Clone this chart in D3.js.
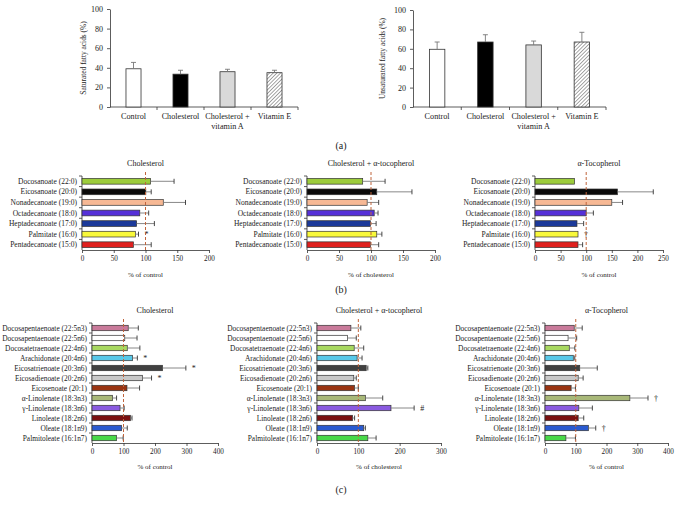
<!DOCTYPE html>
<html><head><meta charset="utf-8">
<script src="https://cdn.jsdelivr.net/npm/d3@7"></script>
<style>
body{margin:0;background:#fff}
svg{display:block}
text{font-family:"Liberation Serif","DejaVu Serif",serif;fill:#222}
</style>
</head><body><svg id="chart" width="682" height="508"></svg>
<script>
// ---------- Panel (a) ----------
const aCategories = ["Control", "Cholesterol", "Cholesterol + vitamin A", "Vitamin E"];
const saturatedValues = [39, 33.5, 36, 35];
const saturatedErrors = [6.5, 4, 2.5, 2.5];
const unsaturatedValues = [59.5, 67, 64, 67];
const unsaturatedErrors = [7.5, 7.5, 4, 10];
const aYTicks = [0, 20, 40, 60, 80, 100];

// ---------- Panel (b) : saturated ----------
const bCategories = ["Docosanoate (22:0)", "Eicosanoate (20:0)", "Nonadecanoate (19:0)", "Octadecanoate (18:0)",
  "Heptadecanoate (17:0)", "Palmitate (16:0)", "Pentadecanoate (15:0)"];
const bCholValues = [108, 100.5, 128, 91, 86, 84, 81];
const bCholErrors = [37, 8.5, 35, 14, 28, 5, 28];
const bCholMarks = ["", "", "", "", "", "*", ""];
const bCholTocoValues = [87, 109, 94, 105, 99, 109, 99];
const bCholTocoErrors = [35, 55, 18, 6, 9, 8, 13];
const bCholTocoMarks = ["", "", "", "", "", "", ""];
const bTocoValues = [77, 161, 150, 100, 82, 84, 84];
const bTocoErrors = [0, 70, 21, 14, 13, 0, 9];
const bTocoMarks = ["", "", "", "", "", "\u2020", ""];
const bTicks200 = [0, 50, 100, 150, 200];
const bTicks250 = [0, 50, 100, 150, 200, 250];

// ---------- Panel (c) : unsaturated ----------
const cCategories = ["Docosapentaenoate (22:5n3)", "Docosapentaenoate (22:5n6)", "Docosatetraenoate (22:4n6)",
  "Arachidonate (20:4n6)", "Eicosatrienoate (20:3n6)", "Eicosadienoate (20:2n6)", "Eicosenoate (20:1)",
  "\u03b1-Linolenate (18:3n3)", "\u03b3-Linolenate (18:3n6)", "Linoleate (18:2n6)", "Oleate (18:1n9)", "Palmitoleate (16:1n7)"];
const cCholValues = [115, 104, 112, 129, 224, 160, 111, 65, 89, 122, 94, 78];
const cCholErrors = [32, 39, 40, 15, 74, 29, 40, 13, 13, 5, 18, 21];
const cCholMarks = ["", "", "", "*", "*", "*", "", "", "", "", "", ""];
const cCholTocoValues = [82, 74, 90, 97, 119, 89, 91, 117, 179, 86, 113, 123];
const cCholTocoErrors = [24, 21, 23, 12, 4, 6, 9, 42, 56, 5, 4, 20];
const cCholTocoMarks = ["", "", "", "", "", "", "", "", "#", "", "", ""];
const cTocoValues = [95, 75, 79, 92, 113, 108, 85, 276, 110, 108, 141, 68];
const cTocoErrors = [26, 28, 18, 5, 57, 16, 14, 59, 44, 18, 24, 31];
const cTocoMarks = ["", "", "", "", "", "", "", "\u2020", "", "", "\u2020", ""];
const cTicks300 = [0, 100, 200, 300];
const cTicks400 = [0, 100, 200, 300, 400];

const bColors = ["#9ccc3c", "#0a0a0a", "#f6b894", "#5530d8", "#1c3a9a", "#f8f83a", "#e0201e"];
const cColors = ["#c97a9a", "#ffffff", "#a8d860", "#58c8e8", "#404040", "#c8c8c8", "#9a3412",
  "#a8b878", "#8a5ae0", "#7a1010", "#2a5ad0", "#48d848"];
const aFills = ["#ffffff", "#000000", "#d9d9d9", "url(#hatch)"];

const svg = d3.select("#chart");
const defs = svg.append("defs");
const pat = defs.append("pattern").attr("id", "hatch").attr("patternUnits", "userSpaceOnUse")
  .attr("width", 2.6).attr("height", 2.6).attr("patternTransform", "rotate(45)");
pat.append("rect").attr("width", 2.6).attr("height", 2.6).attr("fill", "#fff");
pat.append("line").attr("x1", 0).attr("y1", 0).attr("x2", 0).attr("y2", 2.6)
  .attr("stroke", "#777").attr("stroke-width", 1.3);

function styleAxis(g, fs) {
  g.selectAll("path.domain").attr("stroke", "#333").attr("stroke-width", 0.8);
  g.selectAll(".tick line").attr("stroke", "#333").attr("stroke-width", 0.8);
  g.selectAll(".tick text").attr("font-size", fs).attr("font-family", '"Liberation Serif","DejaVu Serif",serif').attr("fill", "#222");
}

// vertical panel (a)
function vPanel(xr, yr, values, errors, ylabel, ylabelX) {
  const g = svg.append("g");
  const x = d3.scaleBand().domain(aCategories).range(xr).paddingInner(0.68).paddingOuter(0.34);
  const y = d3.scaleLinear().domain([0, 100]).range(yr);
  const yAx = g.append("g").attr("transform", `translate(${xr[0]},0)`)
    .call(d3.axisLeft(y).tickValues(aYTicks).tickSize(3).tickSizeOuter(0).tickPadding(4));
  styleAxis(yAx, 8);
  const step = x.step();
  const xAx = g.append("g");
  xAx.append("line").attr("x1", xr[0]).attr("x2", xr[1]).attr("y1", y(0)).attr("y2", y(0))
    .attr("stroke", "#333").attr("stroke-width", 0.8);
  xAx.selectAll("line.t").data(aCategories).join("line").attr("class", "t")
    .attr("x1", d => x(d) + x.bandwidth() / 2 + step / 2).attr("x2", d => x(d) + x.bandwidth() / 2 + step / 2)
    .attr("y1", y(0)).attr("y2", y(0) + 3).attr("stroke", "#333").attr("stroke-width", 0.8);
  aCategories.forEach((c, i) => {
    const cx = x(c) + x.bandwidth() / 2;
    const parts = c.includes("+ ") ? [c.split("+ ")[0] + "+", c.split("+ ")[1]] : [c];
    parts.forEach((p, j) => g.append("text").attr("x", cx).attr("y", y(0) + 12 + j * 10)
      .attr("text-anchor", "middle").attr("font-size", 8.2).text(p));
  });
  g.selectAll("rect.bar").data(values).join("rect").attr("class", "bar")
    .attr("x", (d, i) => x(aCategories[i])).attr("width", x.bandwidth())
    .attr("y", d => y(d)).attr("height", d => y(0) - y(d))
    .attr("fill", (d, i) => aFills[i]).attr("stroke", "#333").attr("stroke-width", 0.8);
  values.forEach((v, i) => {
    const cx = x(aCategories[i]) + x.bandwidth() / 2;
    g.append("line").attr("x1", cx).attr("x2", cx).attr("y1", y(v)).attr("y2", y(v + errors[i]))
      .attr("stroke", "#777").attr("stroke-width", 0.9);
    g.append("line").attr("x1", cx - 2.5).attr("x2", cx + 2.5).attr("y1", y(v + errors[i])).attr("y2", y(v + errors[i]))
      .attr("stroke", "#777").attr("stroke-width", 0.9);
  });
  g.append("text").attr("transform", `translate(${ylabelX},${(yr[0] + yr[1]) / 2}) rotate(-90)`)
    .attr("text-anchor", "middle").attr("font-size", 7.4).text(ylabel);
}

// horizontal panels (b),(c)
function hPanel(o) {
  const g = svg.append("g");
  const x = d3.scaleLinear().domain([0, o.ticks[o.ticks.length - 1]]).range(o.xr);
  const y = d3.scaleBand().domain(o.cats).range(o.yr).paddingInner(0.46).paddingOuter(0.23);
  const step = y.step();
  const xAx = g.append("g").attr("transform", `translate(0,${o.yr[1]})`)
    .call(d3.axisBottom(x).tickValues(o.ticks).tickSize(3).tickSizeOuter(0).tickPadding(3));
  styleAxis(xAx, 7.2);
  g.append("line").attr("x1", o.xr[0]).attr("x2", o.xr[0]).attr("y1", o.yr[0]).attr("y2", o.yr[1])
    .attr("stroke", "#333").attr("stroke-width", 0.8);
  g.selectAll("line.yt").data(o.cats).join("line").attr("class", "yt")
    .attr("x1", o.xr[0] - 3).attr("x2", o.xr[0])
    .attr("y1", d => y(d) + y.bandwidth() / 2 - step / 2).attr("y2", d => y(d) + y.bandwidth() / 2 - step / 2)
    .attr("stroke", "#333").attr("stroke-width", 0.8);
  g.selectAll("text.yl").data(o.cats).join("text").attr("class", "yl")
    .attr("x", o.xr[0] - 5).attr("y", d => y(d) + y.bandwidth() / 2).attr("dy", "0.35em")
    .attr("text-anchor", "end").attr("font-size", o.fs).text(d => d);
  g.selectAll("rect.bar").data(o.values).join("rect").attr("class", "bar")
    .attr("x", x(0)).attr("y", (d, i) => y(o.cats[i])).attr("height", y.bandwidth())
    .attr("width", d => x(d) - x(0)).attr("fill", (d, i) => o.colors[i])
    .attr("stroke", "#333").attr("stroke-width", 0.7);
  o.values.forEach((v, i) => {
    const cy = y(o.cats[i]) + y.bandwidth() / 2;
    const e = o.errors[i];
    if (e > 0) {
      g.append("line").attr("x1", x(v)).attr("x2", x(v + e)).attr("y1", cy).attr("y2", cy)
        .attr("stroke", "#7a7a7a").attr("stroke-width", 0.9);
      g.append("line").attr("x1", x(v + e)).attr("x2", x(v + e)).attr("y1", cy - 2.5).attr("y2", cy + 2.5)
        .attr("stroke", "#333").attr("stroke-width", 0.9);
    }
    if (o.marks[i]) {
      g.append("text").attr("x", x(v + e) + 6).attr("y", cy).attr("dy", "0.35em")
        .attr("font-size", 8).text(o.marks[i]);
    }
  });
  g.append("line").attr("x1", x(100)).attr("x2", x(100)).attr("y1", o.yr[0] - 4).attr("y2", o.yr[1])
    .attr("stroke", "#c0643c").attr("stroke-width", 1).attr("stroke-dasharray", "3,2");
  g.append("text").attr("x", (o.xr[0] + o.xr[1]) / 2).attr("y", o.yr[0] - 10)
    .attr("text-anchor", "middle").attr("font-size", 8).text(o.title);
  g.append("text").attr("x", (o.xr[0] + o.xr[1]) / 2).attr("y", o.yr[1] + o.xlabOff)
    .attr("text-anchor", "middle").attr("font-size", 7).text(o.xlabel);
}

vPanel([110, 298], [107, 9], saturatedValues, saturatedErrors, "Saturated fatty acids (%)", 86);
vPanel([413, 606], [107, 10], unsaturatedValues, unsaturatedErrors, "Unsaturated fatty acids (%)", 385);
svg.append("text").attr("x", 341).attr("y", 149).attr("text-anchor", "middle").attr("font-size", 10).text("(a)");

hPanel({xr: [82, 209], yr: [176, 250], ticks: bTicks200, cats: bCategories, values: bCholValues, errors: bCholErrors,
  marks: bCholMarks, colors: bColors, title: "Cholesterol", xlabel: "% of control", fs: 7.5, xlabOff: 27});
hPanel({xr: [307, 435], yr: [176, 250], ticks: bTicks200, cats: bCategories, values: bCholTocoValues, errors: bCholTocoErrors,
  marks: bCholTocoMarks, colors: bColors, title: "Cholesterol + \u03b1-tocopherol", xlabel: "% of cholesterol", fs: 7.5, xlabOff: 27});
hPanel({xr: [535, 663], yr: [176, 250], ticks: bTicks250, cats: bCategories, values: bTocoValues, errors: bTocoErrors,
  marks: bTocoMarks, colors: bColors, title: "\u03b1-Tocopherol", xlabel: "% of control", fs: 7.5, xlabOff: 27});
svg.append("text").attr("x", 341).attr("y", 293).attr("text-anchor", "middle").attr("font-size", 10).text("(b)");

hPanel({xr: [92, 218], yr: [323, 443], ticks: cTicks400, cats: cCategories, values: cCholValues, errors: cCholErrors,
  marks: cCholMarks, colors: cColors, title: "Cholesterol", xlabel: "% of control", fs: 7.4, xlabOff: 26});
hPanel({xr: [317, 441], yr: [323, 443], ticks: cTicks300, cats: cCategories, values: cCholTocoValues, errors: cCholTocoErrors,
  marks: cCholTocoMarks, colors: cColors, title: "Cholesterol + \u03b1-tocopherol", xlabel: "% of cholesterol", fs: 7.4, xlabOff: 26});
hPanel({xr: [545, 668], yr: [323, 443], ticks: cTicks400, cats: cCategories, values: cTocoValues, errors: cTocoErrors,
  marks: cTocoMarks, colors: cColors, title: "\u03b1-Tocopherol", xlabel: "% of control", fs: 7.4, xlabOff: 26});
svg.append("text").attr("x", 341).attr("y", 493).attr("text-anchor", "middle").attr("font-size", 10).text("(c)");
</script>
</body></html>
